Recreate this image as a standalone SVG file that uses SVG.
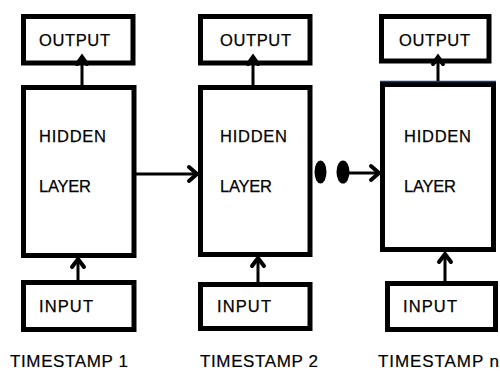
<svg xmlns="http://www.w3.org/2000/svg" width="500" height="377" viewBox="0 0 500 377">
  <defs>
    <style>
      .box { fill: #ffffff; stroke: #000000; stroke-width: 5; }
      .lbl { font-family: "Liberation Sans", Arial, sans-serif; font-size: 16.5px; fill: #000000; stroke: #000000; stroke-width: 0.25; }
      .ts { font-family: "Liberation Sans", Arial, sans-serif; font-size: 17px; fill: #000000; stroke: #000000; stroke-width: 0.2; }
      .link { fill: none; stroke: #000000; stroke-width: 3; }
      .head { fill: none; stroke: #000000; stroke-width: 4; stroke-linecap: round; stroke-linejoin: miter; }
    </style>
  </defs>

  <!-- Column 1: timestamp 1 -->
  <g id="output-1">
    <rect class="box" x="23.5" y="16.5" width="109.5" height="46.5"/>
    <text class="lbl" x="39" y="46" textLength="71">OUTPUT</text>
  </g>
  <g id="hidden-1">
    <rect class="box" x="23.5" y="87.5" width="110.5" height="168"/>
    <text class="lbl" x="39" y="142" textLength="67">HIDDEN</text>
    <text class="lbl" x="39" y="192" textLength="52">LAYER</text>
  </g>
  <g id="input-1">
    <rect class="box" x="23.5" y="282.5" width="110.5" height="47"/>
    <text class="lbl" x="39" y="312" textLength="54">INPUT</text>
  </g>
  <text class="ts" x="10" y="367" textLength="118">TIMESTAMP 1</text>

  <!-- Column 2: timestamp 2 -->
  <g id="output-2">
    <rect class="box" x="200.5" y="16.5" width="109.5" height="46.5"/>
    <text class="lbl" x="220" y="46" textLength="71">OUTPUT</text>
  </g>
  <g id="hidden-2">
    <rect class="box" x="200.5" y="87.5" width="109.5" height="167"/>
    <text class="lbl" x="220" y="142" textLength="67">HIDDEN</text>
    <text class="lbl" x="220" y="192" textLength="52">LAYER</text>
  </g>
  <g id="input-2">
    <rect class="box" x="200.5" y="284.5" width="109.5" height="44"/>
    <text class="lbl" x="217" y="312" textLength="54">INPUT</text>
  </g>
  <text class="ts" x="200" y="367" textLength="118">TIMESTAMP 2</text>

  <!-- Column 3: timestamp n -->
  <g id="output-n">
    <rect class="box" x="381.5" y="16.5" width="107.5" height="44.5"/>
    <text class="lbl" x="399" y="46" textLength="71">OUTPUT</text>
  </g>
  <g id="hidden-n">
    <rect class="box" x="382.5" y="84.5" width="111" height="165"/>
    <line x1="380" y1="81.5" x2="496" y2="81.5" stroke="#1f3b73" stroke-width="1.5"/>
    <text class="lbl" x="404" y="142" textLength="67">HIDDEN</text>
    <text class="lbl" x="404" y="192" textLength="52">LAYER</text>
  </g>
  <g id="input-n">
    <rect class="box" x="387.5" y="283.5" width="108" height="46"/>
    <text class="lbl" x="403" y="312" textLength="54">INPUT</text>
  </g>
  <text class="ts" x="378" y="367" textLength="121">TIMESTAMP n</text>

  <!-- Ellipsis between timestamp 2 and n -->
  <g id="ellipsis">
    <ellipse cx="320.5" cy="172" rx="6" ry="11.5" fill="#000000"/>
    <ellipse cx="343" cy="172" rx="6.5" ry="11.5" fill="#000000"/>
  </g>

  <!-- Connectors -->
  <g id="connectors">
    <!-- hidden -> output -->
    <line class="link" x1="82" y1="85" x2="82" y2="58"/>
    <polyline class="head" points="77,64 82,57 87,64"/>
    <line class="link" x1="253" y1="85" x2="253" y2="58"/>
    <polyline class="head" points="248,64 253,57 258,64"/>
    <line class="link" x1="438" y1="81" x2="438" y2="58"/>
    <polyline class="head" points="433,64 438,57 443,64"/>

    <!-- input -> hidden -->
    <line class="link" x1="78" y1="280" x2="78" y2="260"/>
    <polyline class="head" points="72,267 78,259 84,267"/>
    <line class="link" x1="258" y1="282" x2="258" y2="259"/>
    <polyline class="head" points="252,266 258,258 264,266"/>
    <line class="link" x1="445" y1="281" x2="445" y2="255"/>
    <polyline class="head" points="439,262 445,254 451,262"/>

    <!-- hidden -> hidden (recurrent) -->
    <line class="link" x1="136" y1="174" x2="196" y2="174"/>
    <polyline class="head" points="189,167 197,174 189,181"/>
    <line class="link" x1="349" y1="173" x2="378" y2="173"/>
    <polyline class="head" points="371,166 379,173 371,180"/>
  </g>
</svg>
